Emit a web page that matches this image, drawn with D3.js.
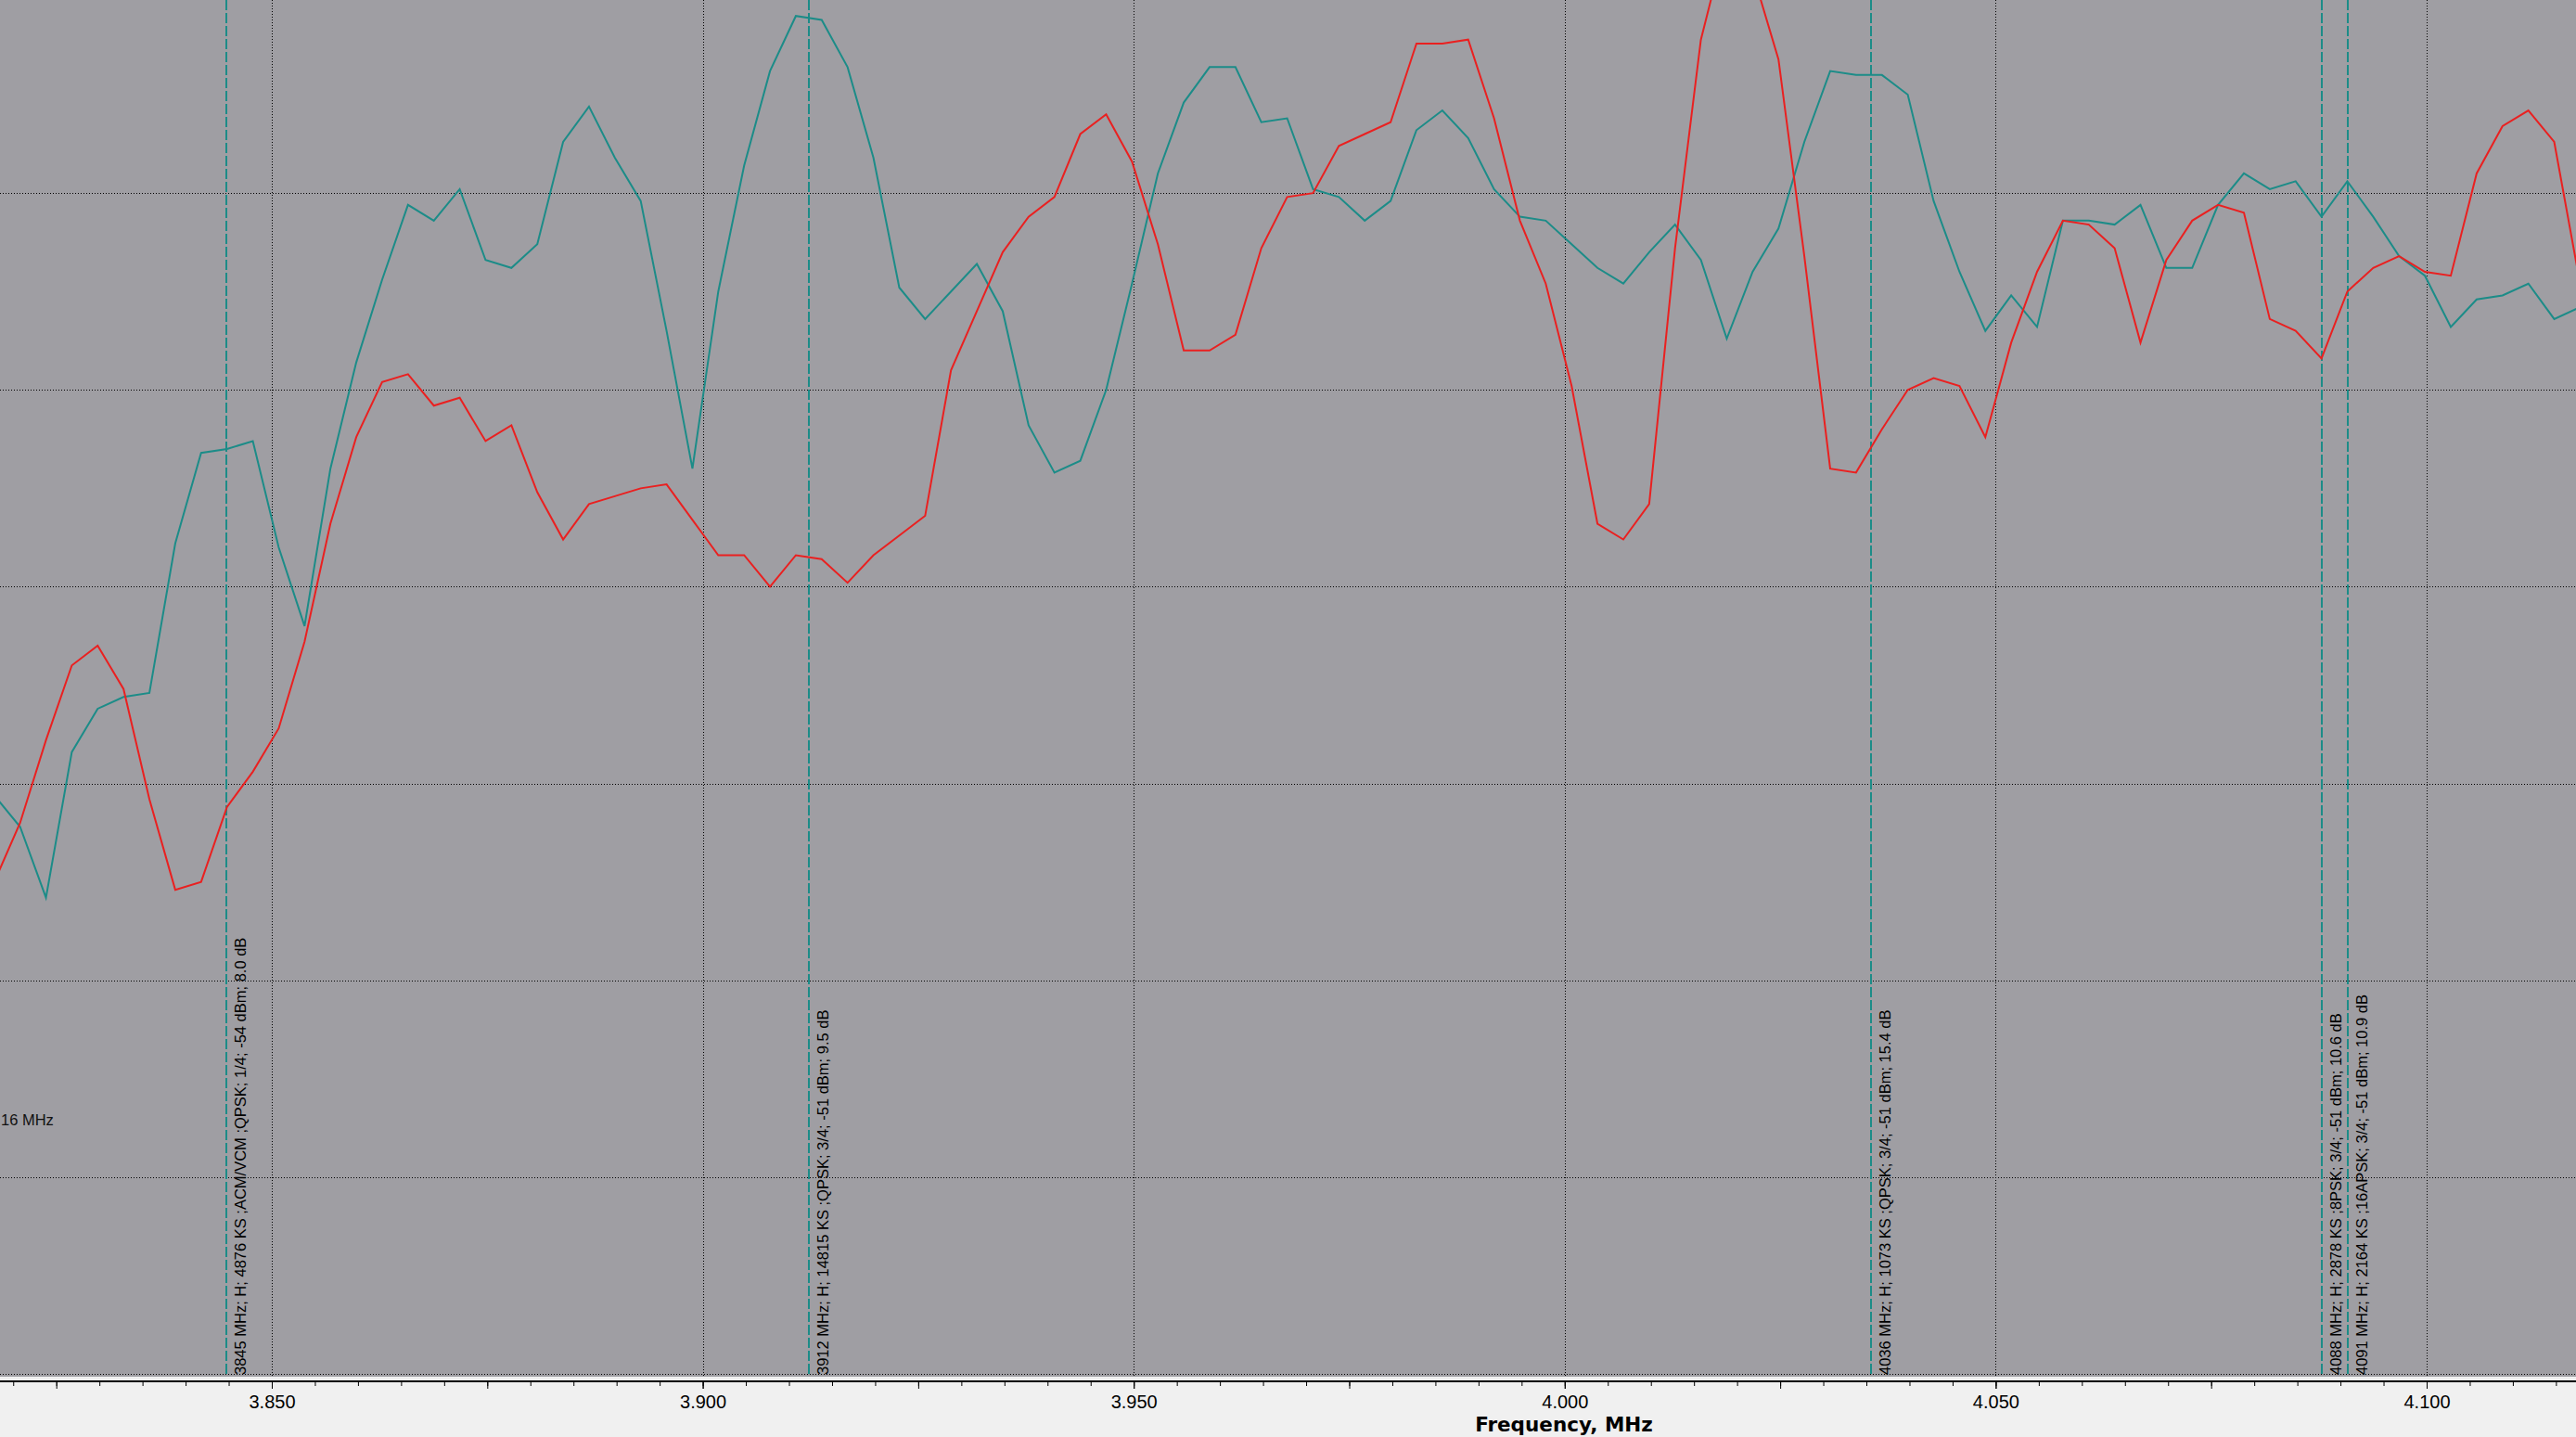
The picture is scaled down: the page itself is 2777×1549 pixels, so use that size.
<!DOCTYPE html>
<html><head><meta charset="utf-8">
<script src="https://cdn.jsdelivr.net/npm/d3@7"></script>
<style>html,body{margin:0;padding:0;background:#f0f0f0;overflow:hidden}</style>
</head><body><svg id="c" width="2777" height="1549"></svg>
<script>
// Frequency samples (label units as on the axis)
const freqs = [3.8178,3.8208,3.8238,3.8268,3.8298,3.8328,3.8358,3.8388,3.8418,3.8448,
3.8478,3.8508,3.8538,3.8568,3.8598,3.8628,3.8658,3.8688,3.8718,3.8748,
3.8778,3.8808,3.8838,3.8868,3.8898,3.8928,3.8958,3.8988,3.9018,3.9048,
3.9078,3.9108,3.9138,3.9168,3.9198,3.9228,3.9258,3.9288,3.9318,3.9348,
3.9378,3.9408,3.9438,3.9468,3.9498,3.9528,3.9558,3.9588,3.9618,3.9648,
3.9678,3.9708,3.9738,3.9768,3.9798,3.9828,3.9858,3.9888,3.9918,3.9948,
3.9978,4.0008,4.0038,4.0068,4.0098,4.0128,4.0158,4.0188,4.0218,4.0248,
4.0278,4.0308,4.0338,4.0368,4.0398,4.0428,4.0458,4.0488,4.0518,4.0548,
4.0578,4.0608,4.0638,4.0668,4.0698,4.0728,4.0758,4.0788,4.0818,4.0848,
4.0878,4.0908,4.0938,4.0968,4.0998,4.1028,4.1058,4.1088,4.1118,4.1148,4.1178];

// Level, dBm (estimated) - teal trace
const tealLevels = [-80.3,-81.1,-82.9,-79.2,-78.1,-77.8,-77.7,-73.9,-71.6,-71.5,
-71.3,-74.0,-76.0,-72.0,-69.3,-67.2,-65.3,-65.7,-64.9,-66.7,
-66.9,-66.3,-63.7,-62.8,-64.1,-65.2,-68.5,-72.0,-67.5,-64.3,
-61.9,-60.5,-60.6,-61.8,-64.1,-67.4,-68.2,-67.5,-66.8,-68.0,
-70.9,-72.1,-71.8,-70.0,-67.3,-64.5,-62.7,-61.8,-61.8,-63.2,
-63.1,-64.9,-65.1,-65.7,-65.2,-63.4,-62.9,-63.6,-64.9,-65.6,
-65.7,-66.3,-66.9,-67.3,-66.5,-65.8,-66.7,-68.7,-67.0,-65.9,
-63.7,-61.9,-62.0,-62.0,-62.5,-65.2,-67.0,-68.5,-67.6,-68.4,
-65.7,-65.7,-65.8,-65.3,-66.9,-66.9,-65.3,-64.5,-64.9,-64.7,
-65.6,-64.7,-65.6,-66.6,-67.1,-68.4,-67.7,-67.6,-67.3,-68.2,-67.9];

// Level, dBm (estimated) - red trace
const redLevels = [-82.5,-81.0,-78.9,-77.0,-76.5,-77.6,-80.4,-82.7,-82.5,-80.6,
-79.7,-78.6,-76.4,-73.4,-71.2,-69.8,-69.6,-70.4,-70.2,-71.3,
-70.9,-72.6,-73.8,-72.9,-72.7,-72.5,-72.4,-73.3,-74.2,-74.2,
-75.0,-74.2,-74.3,-74.9,-74.2,-73.7,-73.2,-69.5,-68.0,-66.5,
-65.6,-65.1,-63.5,-63.0,-64.2,-66.3,-69.0,-69.0,-68.6,-66.4,
-65.1,-65.0,-63.8,-63.5,-63.2,-61.2,-61.2,-61.1,-63.1,-65.7,
-67.3,-69.9,-73.4,-73.8,-72.9,-66.4,-61.1,-58.5,-59.4,-61.6,
-66.6,-72.0,-72.1,-71.0,-70.0,-69.7,-69.9,-71.2,-68.8,-67.0,
-65.7,-65.8,-66.4,-68.8,-66.7,-65.7,-65.3,-65.5,-68.2,-68.5,
-69.2,-67.5,-66.9,-66.6,-67.0,-67.1,-64.5,-63.3,-62.9,-63.7,-67.3];

// Carrier markers
const markerFreqs = [3.84473, 3.91231, 4.03554, 4.08784, 4.0909];
const markerLabels = [
  "3845 MHz; H; 4876 KS ;ACM/VCM ;QPSK; 1/4; -54 dBm; 8.0 dB",
  "3912 MHz; H; 14815 KS ;QPSK; 3/4; -51 dBm; 9.5 dB",
  "4036 MHz; H; 1073 KS ;QPSK; 3/4; -51 dBm; 15.4 dB",
  "4088 MHz; H; 2878 KS ;8PSK; 3/4; -51 dBm; 10.6 dB",
  "4091 MHz; H; 2164 KS ;16APSK; 3/4; -51 dBm; 10.9 dB"
];

// Axis ticks
const xTickValues = [3.85, 3.90, 3.95, 4.00, 4.05, 4.10];
const xTickLabels = ["3.850", "3.900", "3.950", "4.000", "4.050", "4.100"];
const yGridValues = [-95, -90, -85, -80, -75, -70, -65, -60];
const xTitle = "Frequency, MHz";
const sideNote = "16 MHz";

const W = 2777, H = 1549, plotBottom = 1484, axisY = 1490;
const svg = d3.select("#c");
const x = d3.scaleLinear().domain([3.85, 4.10]).range([293, 2616]);
const y = d3.scaleLinear().domain([-95, -60]).range([1481, -4]);

svg.append("rect").attr("x",0).attr("y",0).attr("width",W).attr("height",H).attr("fill","#f0f0f0");
svg.append("rect").attr("x",0).attr("y",0).attr("width",W).attr("height",plotBottom).attr("fill","#9f9ea3");

svg.append("defs").append("clipPath").attr("id","pc")
  .append("rect").attr("x",0).attr("y",0).attr("width",W).attr("height",plotBottom);

const plot = svg.append("g").attr("clip-path","url(#pc)");

// grid
plot.append("g").selectAll("line").data(xTickValues).join("line")
  .attr("x1", d => Math.round(x(d)) + 0.5).attr("x2", d => Math.round(x(d)) + 0.5)
  .attr("y1", 0).attr("y2", plotBottom)
  .attr("stroke", "#000").attr("stroke-width", 1).attr("stroke-dasharray", "1,2");
plot.append("g").selectAll("line").data(yGridValues).join("line")
  .attr("x1", 0).attr("x2", W)
  .attr("y1", d => Math.round(y(d)) + 0.5).attr("y2", d => Math.round(y(d)) + 0.5)
  .attr("stroke", "#000").attr("stroke-width", 1).attr("stroke-dasharray", "1,2");

// markers
const teal = "#1c8c88";
plot.append("g").selectAll("line").data(markerFreqs).join("line")
  .attr("x1", d => Math.round(x(d))).attr("x2", d => Math.round(x(d)))
  .attr("y1", 0).attr("y2", plotBottom)
  .attr("stroke", teal).attr("stroke-width", 2).attr("stroke-dasharray", "11,3");

plot.append("g").selectAll("text").data(markerFreqs).join("text")
  .attr("transform", d => `translate(${Math.round(x(d)) + 21},1482) rotate(-90)`)
  .attr("text-anchor", "start")
  .attr("font-family", "'Liberation Sans', Arial, sans-serif")
  .attr("font-size", "16.5px").attr("fill", "#000")
  .text((d, i) => markerLabels[i]);

plot.append("text").attr("x", 1).attr("y", 1213).attr("text-anchor", "start")
  .attr("font-family", "'Liberation Sans', Arial, sans-serif")
  .attr("font-size", "16.5px").attr("fill", "#111").text(sideNote);

// traces
const line = d3.line().x((d, i) => x(freqs[i])).y(d => y(d));
plot.append("path").datum(tealLevels).attr("d", line)
  .attr("fill", "none").attr("stroke", teal).attr("stroke-width", 2).attr("stroke-linejoin", "miter");
plot.append("path").datum(redLevels).attr("d", line)
  .attr("fill", "none").attr("stroke", "#ea2020").attr("stroke-width", 2).attr("stroke-linejoin", "miter");

// axis
svg.append("line").attr("x1", 0).attr("x2", W).attr("y1", axisY - 1).attr("y2", axisY - 1)
  .attr("stroke", "#000").attr("stroke-width", 2);

const minorTicks = d3.range(3.815, 4.121, 0.005).map(v => +v.toFixed(3));
const midTicks = d3.range(3.825, 4.121, 0.025).map(v => +v.toFixed(3));

const gMinor = svg.append("g").attr("transform", `translate(0,${axisY})`)
  .call(d3.axisBottom(x).tickValues(minorTicks).tickSize(4).tickFormat(""));
const gMid = svg.append("g").attr("transform", `translate(0,${axisY})`)
  .call(d3.axisBottom(x).tickValues(midTicks).tickSize(7).tickFormat(""));
const gMajor = svg.append("g").attr("transform", `translate(0,${axisY})`)
  .call(d3.axisBottom(x).tickValues(xTickValues).tickSize(7).tickPadding(7)
    .tickFormat((d, i) => xTickLabels[i]));
[gMinor, gMid, gMajor].forEach(g => {
  g.select(".domain").remove();
  g.selectAll(".tick line").attr("stroke", "#000").attr("stroke-width", 1);
});
gMajor.selectAll(".tick text")
  .attr("font-family", "'Liberation Sans', Arial, sans-serif")
  .attr("font-size", "20px").attr("fill", "#000");

svg.append("text").attr("x", 1686).attr("y", 1543).attr("text-anchor", "middle")
  .attr("font-family", "'DejaVu Sans', sans-serif").attr("font-weight", "bold")
  .attr("font-size", "21.5px").attr("fill", "#000").text(xTitle);
</script>
</body></html>
